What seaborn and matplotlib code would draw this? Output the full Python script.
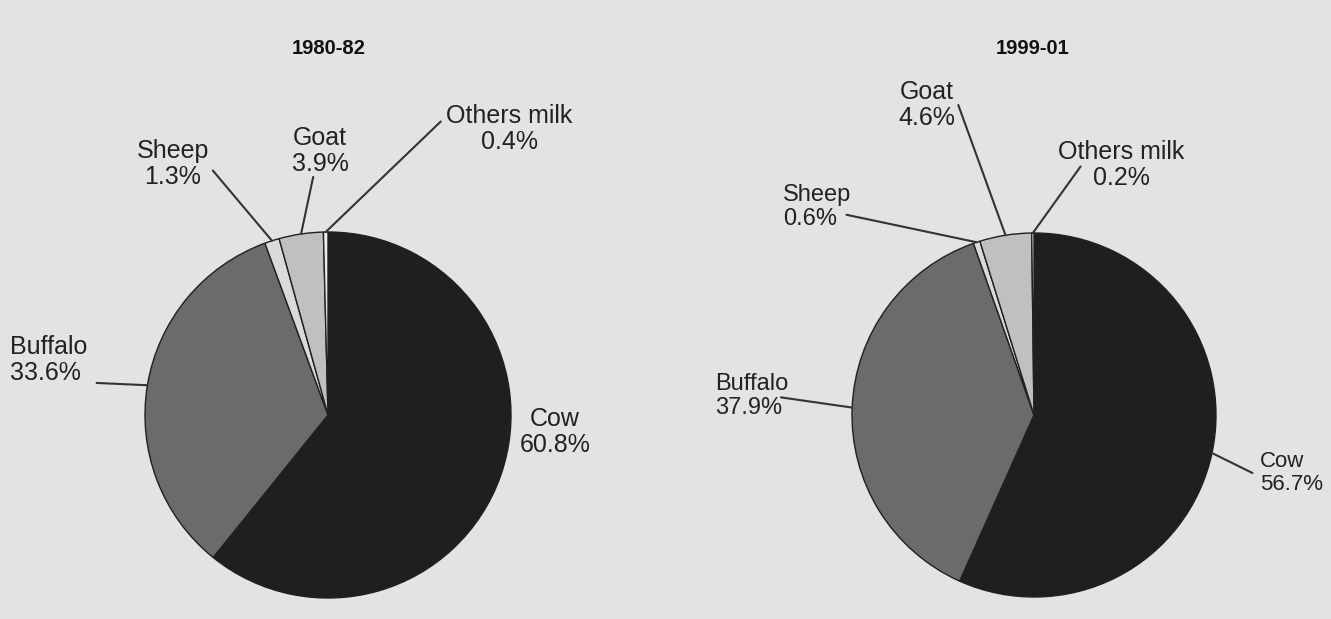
import numpy as np
import matplotlib
matplotlib.use("Agg")
import matplotlib.pyplot as plt
import seaborn as sns

# Milk production shares by species
categories = ["Cow", "Buffalo", "Sheep", "Goat", "Others milk"]
share_1980 = [60.8, 33.6, 1.3, 3.9, 0.4]
share_1999 = [56.7, 37.9, 0.6, 4.6, 0.2]
periods = ["1980-82", "1999-01"]

shades = ["#1f1f1f", "#6b6b6b", "#dadada", "#c0c0c0", "#ececec"]
bg = "#e3e3e3"
ink = "#222222"

sns.set_theme(style="white")
plt.rcParams["font.family"] = ["Liberation Sans", "DejaVu Sans"]

W, H = 1331, 619
fig = plt.figure(figsize=(W / 100, H / 100), dpi=100)
fig.patch.set_facecolor(bg)
ax = fig.add_axes([0, 0, 1, 1])
ax.set_facecolor(bg)

# layout in pixel coords (y from top): pie centre, radius, title, label placement
charts = [
    dict(values=share_1980, title=periods[0], center=(328, 415), radius=183, title_xy=(329, 48),
         labels={
             "Cow": dict(xy=(555, 432), ha="center", size=18, rel=None),
             "Buffalo": dict(xy=(10, 360), ha="left", size=18, rel=(1.12, 0.04)),
             "Sheep": dict(xy=(173, 164), ha="center", size=18, rel=(1.05, 0.37)),
             "Goat": dict(xy=(320, 151), ha="center", size=18, rel=(0.38, -0.02)),
             "Others milk": dict(xy=(509, 129), ha="center", size=18, rel=(-0.04, 0.65)),
         }),
    dict(values=share_1999, title=periods[1], center=(1034, 415), radius=182, title_xy=(1033, 48),
         labels={
             "Cow": dict(xy=(1260, 473), ha="left", size=16, rel=(-0.12, 0.5)),
             "Buffalo": dict(xy=(715, 396), ha="left", size=17, rel=(0.9, 0.47)),
             "Sheep": dict(xy=(783, 207), ha="left", size=17, rel=(0.93, 0.33)),
             "Goat": dict(xy=(927, 105), ha="center", size=18, rel=(1.05, 0.5)),
             "Others milk": dict(xy=(1121, 165), ha="center", size=18, rel=(0.18, 0.47)),
         }),
]

for chart in charts:
    cx, cy = chart["center"]
    r = chart["radius"]
    wedges, _ = ax.pie(chart["values"], colors=shades, startangle=90, counterclock=False,
                       center=(cx, H - cy), radius=r,
                       wedgeprops=dict(edgecolor="#202020", linewidth=1.0))
    ax.text(chart["title_xy"][0], H - chart["title_xy"][1], chart["title"],
            ha="center", va="center", fontsize=14.5, fontweight="bold", color="#111111")

    for w, name, val in zip(wedges, categories, chart["values"]):
        lab = chart["labels"][name]
        ang = np.deg2rad((w.theta1 + w.theta2) / 2)
        edge = (cx + r * np.cos(ang), H - cy + r * np.sin(ang))
        text = f"{name}\n{val}%"
        tx, ty = lab["xy"]
        if lab["rel"] is None:
            ax.text(tx, H - ty, text, ha=lab["ha"], va="center", multialignment=lab["ha"],
                    fontsize=lab["size"], color=ink, linespacing=1.1)
        else:
            ax.annotate(text, xy=edge, xytext=(tx, H - ty), ha=lab["ha"], va="center",
                        multialignment=lab["ha"], fontsize=lab["size"], color=ink,
                        linespacing=1.1,
                        arrowprops=dict(arrowstyle="-", color="#333333", lw=1.5,
                                        relpos=lab["rel"], patchA=None,
                                        shrinkA=0, shrinkB=0))

ax.set_xlim(0, W)
ax.set_ylim(0, H)
ax.set_aspect("equal")
ax.axis("off")

fig.savefig("out.png", dpi=100, facecolor=bg)
